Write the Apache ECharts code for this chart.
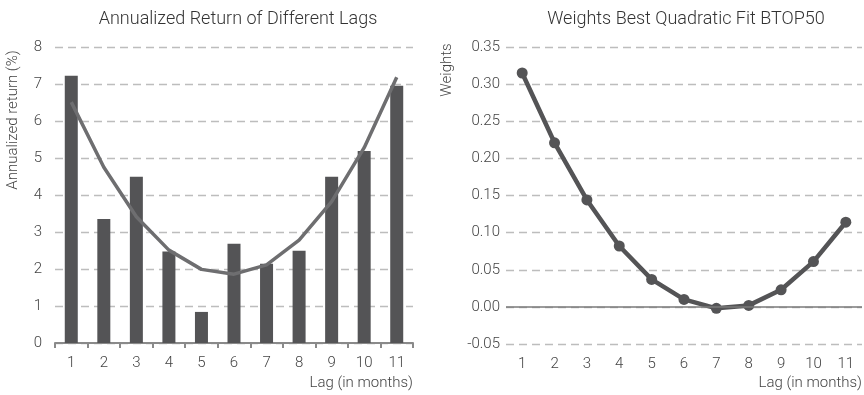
<!DOCTYPE html>
<html><head><meta charset="utf-8">
<script src="https://cdn.jsdelivr.net/npm/echarts@6/dist/echarts.min.js"></script>
<style>html,body{margin:0;padding:0;background:#fff}#c{width:864px;height:395px}</style>
</head><body><div id="c"></div>
<script>
const lags = ['1','2','3','4','5','6','7','8','9','10','11'];
const annualReturn = [7.22, 3.35, 4.49, 2.47, 0.84, 2.68, 2.14, 2.49, 4.49, 5.19, 6.95];
const returnFit = [6.51, 4.75, 3.41, 2.51, 1.99, 1.86, 2.11, 2.78, 3.82, 5.28, 7.18];
const weights = [0.315, 0.221, 0.144, 0.082, 0.037, 0.010, -0.002, 0.002, 0.023, 0.061, 0.114];
const leftTicks = [0, 8, 1];
const rightTicks = [-0.05, 0.35, 0.05];

const FONT = 'Roboto';
const txt = {color:'#444', fontFamily: FONT, fontWeight: 300, fontSize: 15};
const split = {show:true, lineStyle:{color:'#bdbdbd', type:[8,5], width:1.3}};

const chart = echarts.init(document.getElementById('c'), null, {renderer:'canvas'});
chart.setOption({
  animation:false,
  title:[
    {text:'Annualized Return of Different Lags', left:233, top:5, textAlign:'center',
     textStyle:{color:'#333', fontFamily:FONT, fontWeight:300, fontSize:18}},
    {text:'Weights Best Quadratic Fit BTOP50', left:681, top:5, textAlign:'center',
     textStyle:{color:'#333', fontFamily:FONT, fontWeight:300, fontSize:18}}
  ],
  graphic:[
    {type:'text', x:13, y:120, rotation:Math.PI/2, z:10,
     style:{text:'Annualized return (%)', align:'center', verticalAlign:'middle',
       fill:'#444', font:'300 15px Roboto'}},
    {type:'text', x:447, y:70, rotation:Math.PI/2, z:10,
     style:{text:'Weights', align:'center', verticalAlign:'middle',
       fill:'#444', font:'300 15px Roboto'}}
  ],
  grid:[
    {left:55, top:47, width:358, height:296, outerBoundsMode:'none', containLabel:false},
    {left:506, top:47, width:356, height:297, outerBoundsMode:'none', containLabel:false}
  ],
  xAxis:[
    {type:'category', gridIndex:0, data:lags, boundaryGap:true,
     axisLine:{show:true, lineStyle:{color:'#8a8a8a', width:2}},
     axisTick:{show:true, length:5, lineStyle:{color:'#8a8a8a', width:2}},
     axisLabel:Object.assign({margin:13}, txt),
     name:'Lag (in months)', nameLocation:'end', nameGap:0,
     nameTextStyle:Object.assign({align:'right', verticalAlign:'top', padding:[33,0,0,0]}, txt)},
    {type:'category', gridIndex:1, data:lags, boundaryGap:true,
     axisLine:{show:false, onZero:false}, axisTick:{show:false},
     axisLabel:Object.assign({margin:13}, txt),
     name:'Lag (in months)', nameLocation:'end', nameGap:0,
     nameTextStyle:Object.assign({align:'right', verticalAlign:'top', padding:[32,0,0,0]}, txt)}
  ],
  yAxis:[
    {type:'value', gridIndex:0, min:leftTicks[0], max:leftTicks[1], interval:leftTicks[2],
     axisLine:{show:false}, axisTick:{show:false},
     axisLabel:Object.assign({margin:13}, txt),
     splitLine:split},
    {type:'value', gridIndex:1, min:rightTicks[0], max:rightTicks[1], interval:rightTicks[2],
     axisLine:{show:false}, axisTick:{show:false},
     axisLabel:Object.assign({margin:6, formatter:v=>v.toFixed(2)}, txt),
     splitLine:split}
  ],
  series:[
    {type:'bar', xAxisIndex:0, yAxisIndex:0, data:annualReturn, barWidth:13,
     itemStyle:{color:'#545456'}, z:2},
    {type:'line', xAxisIndex:0, yAxisIndex:0, data:returnFit, symbol:'none',
     lineStyle:{color:'#6e6e70', width:3.5}, z:3},
    {type:'line', xAxisIndex:1, yAxisIndex:1, data:weights, symbol:'circle', symbolSize:11,
     lineStyle:{color:'#545456', width:4.5}, itemStyle:{color:'#545456'}, z:3,
     markLine:{silent:true, symbol:['none','none'], label:{show:false},
       lineStyle:{color:'#7a7a7a', type:'solid', width:1.5},
       data:[{yAxis:0}]}}
  ]
});
</script></body></html>
